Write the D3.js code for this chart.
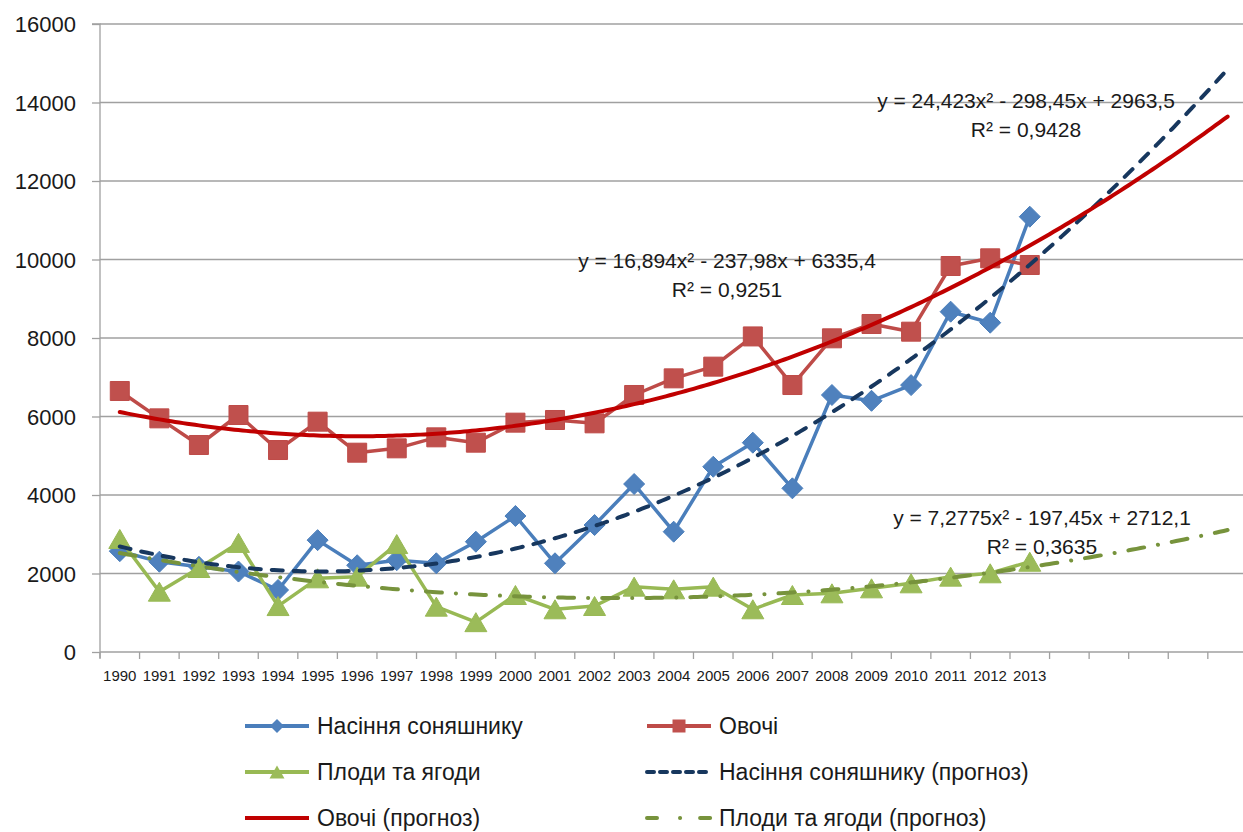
<!DOCTYPE html>
<html><head><meta charset="utf-8">
<script src="https://cdn.jsdelivr.net/npm/d3@7"></script>
<style>
html,body{margin:0;padding:0;background:#fff;}
svg{display:block;font-family:"Liberation Sans",Arial,sans-serif;}
</style></head>
<body><svg id="chart" width="1243" height="832"></svg>
<script>
// ---- data ----
const years = ["1990","1991","1992","1993","1994","1995","1996","1997","1998","1999","2000","2001","2002","2003","2004","2005","2006","2007","2008","2009","2010","2011","2012","2013"];
const forecastPeriods = 5;
const sunflower = [2570,2300,2170,2050,1580,2850,2210,2340,2260,2810,3465,2260,3235,4280,3065,4720,5333,4170,6548,6400,6800,8670,8390,11090];
const vegetables = [6650,5953,5274,6038,5146,5868,5078,5189,5469,5333,5843,5911,5826,6548,6972,7270,8040,6802,7992,8357,8161,9834,10030,9860];
const fruits = [2880,1537,2140,2780,1170,1877,1920,2750,1155,760,1452,1088,1172,1665,1597,1665,1088,1452,1495,1622,1750,1920,2005,2300];
const trendSunflower = [24.423, -298.45, 2963.5];
const trendVegetables = [16.894, -237.98, 6335.4];
const trendFruits = [7.2775, -197.45, 2712.1];
const eqSunflower = ["y = 24,423x² - 298,45x + 2963,5", "R² = 0,9428"];
const eqVegetables = ["y = 16,894x² - 237,98x + 6335,4", "R² = 0,9251"];
const eqFruits = ["y = 7,2775x² - 197,45x + 2712,1", "R² = 0,3635"];
const yTicks = [0,2000,4000,6000,8000,10000,12000,14000,16000];
const legendLabels = ["Насіння соняшнику","Овочі","Плоди та ягоди","Насіння соняшнику (прогноз)","Овочі (прогноз)","Плоди та ягоди (прогноз)"];

(function () {
// ---- layout ----
const svg = d3.select("#chart");
const nCats = years.length + forecastPeriods;
const pLeft = 100, catW = 39.565, pTop = 24, pBottom = 652;
const pRight = pLeft + nCats * catW;
const x = d3.scaleLinear().domain([0.5, nCats + 0.5]).range([pLeft, pRight]);
const y = d3.scaleLinear().domain([0, 16000]).range([pBottom, pTop]);

const C = {
  blue: "#4A7EBB", blueM: "#4F81BD",
  red: "#BE4B48", redM: "#C0504D",
  green: "#98B954", greenM: "#9BBB59",
  tBlue: "#17375E", tRed: "#C00000", tGreen: "#77933C",
  grid: "#A0A0A0", text: "#1a1a1a"
};

// gridlines
svg.append("g").selectAll("line").data(yTicks.filter(d => d > 0)).join("line")
  .attr("x1", pLeft).attr("x2", pRight).attr("y1", d => y(d)).attr("y2", d => y(d))
  .attr("stroke", C.grid).attr("stroke-width", 1.3);

// y axis
const yAxis = d3.axisLeft(y).tickValues(yTicks).tickSize(8).tickPadding(16).tickFormat(d3.format("d"));
const gy = svg.append("g").attr("transform", `translate(${pLeft},0)`).call(yAxis);
gy.select(".domain").attr("stroke", C.grid).attr("stroke-width", 1.3).attr("d", `M-8,${pTop}H0V${pBottom + 6}`);
gy.selectAll(".tick line").attr("stroke", C.grid).attr("stroke-width", 1.3);
gy.selectAll(".tick text").attr("font-size", 22).attr("fill", C.text)
  .attr("font-family", "Liberation Sans, Arial, sans-serif").attr("dy", "0.35em");

// x axis
const boundaries = d3.range(0, nCats + 1).map(k => k + 0.5);
const gx = svg.append("g");
gx.append("line").attr("x1", pLeft).attr("x2", pRight).attr("y1", pBottom).attr("y2", pBottom)
  .attr("stroke", C.grid).attr("stroke-width", 1.3);
gx.selectAll("line.t").data(boundaries).join("line").attr("class", "t")
  .attr("x1", d => x(d)).attr("x2", d => x(d)).attr("y1", pBottom).attr("y2", pBottom + 7)
  .attr("stroke", C.grid).attr("stroke-width", 1.3);
gx.selectAll("text").data(years).join("text")
  .attr("x", (d, i) => x(i + 1)).attr("y", 681).attr("text-anchor", "middle")
  .attr("font-size", 15).attr("fill", C.text).text(d => d);

// marker shapes
function diamond(r) { return `M0,${-r}L${r},0L0,${r}L${-r},0Z`; }
function square(s) { const h = s / 2; return `M${-h},${-h}H${h}V${h}H${-h}Z`; }
function triangle(w, h) { return `M0,${-h / 2}L${w / 2},${h / 2}L${-w / 2},${h / 2}Z`; }

const line = d3.line().x(d => x(d[0])).y(d => y(d[1]));
function series(vals, color, mColor, shape) {
  const pts = vals.map((v, i) => [i + 1, v]);
  svg.append("path").attr("d", line(pts)).attr("fill", "none")
    .attr("stroke", color).attr("stroke-width", 3.5).attr("stroke-linejoin", "round");
  svg.append("g").selectAll("path").data(pts).join("path")
    .attr("transform", d => `translate(${x(d[0])},${y(d[1])})`)
    .attr("d", shape).attr("fill", mColor).attr("stroke", color).attr("stroke-width", 1);
}
series(sunflower, C.blue, C.blueM, diamond(10.5));
series(vegetables, C.red, C.redM, square(19));
series(fruits, C.green, C.greenM, triangle(22, 19));

// trendlines
const tx = d3.range(1, nCats + 0.001, 0.1);
function trend(coef, color, dash) {
  const pts = tx.map(t => [t, coef[0] * t * t + coef[1] * t + coef[2]]);
  const p = svg.append("path").attr("d", line(pts))
    .attr("fill", "none").attr("stroke", color).attr("stroke-width", 4).attr("stroke-linecap", "round");
  if (dash) p.attr("stroke-dasharray", dash);
}
trend(trendFruits, C.tGreen, "16,14,0.1,14");
trend(trendSunflower, C.tBlue, "11,11");
trend(trendVegetables, C.tRed, null);

// equations
function eq(lines, cx, b1, b2) {
  [b1, b2].forEach((b, i) => svg.append("text").attr("x", cx).attr("y", b)
    .attr("text-anchor", "middle").attr("font-size", 21).attr("fill", C.text).text(lines[i]));
}
eq(eqSunflower, 1026, 108, 137);
eq(eqVegetables, 727, 268, 297);
eq(eqFruits, 1042, 525, 554);

// legend
const legItems = [
  {c: 0, r: 0, color: C.blue, m: diamond(7), mc: C.blueM},
  {c: 1, r: 0, color: C.red, m: square(13), mc: C.redM},
  {c: 0, r: 1, color: C.green, m: triangle(15, 13), mc: C.greenM},
  {c: 1, r: 1, color: C.tBlue, dash: "7,6"},
  {c: 0, r: 2, color: C.tRed},
  {c: 1, r: 2, color: C.tGreen, dash: "10,23,0.1,20,10,100"}
];
const lg = svg.append("g");
legItems.forEach((it, i) => {
  const lx = 243 + it.c * 402, ly = 726 + it.r * 46;
  const l = lg.append("line").attr("x1", lx + 2).attr("x2", lx + 66).attr("y1", ly).attr("y2", ly)
    .attr("stroke", it.color).attr("stroke-width", 4).attr("stroke-linecap", it.dash ? "round" : "butt");
  if (it.dash) l.attr("stroke-dasharray", it.dash);
  if (it.m) lg.append("path").attr("transform", `translate(${lx + 34},${ly})`).attr("d", it.m).attr("fill", it.mc);
  lg.append("text").attr("x", lx + 74).attr("y", ly + 7.5).attr("font-size", 23).attr("fill", C.text).text(legendLabels[i]);
});
})();
</script></body></html>
